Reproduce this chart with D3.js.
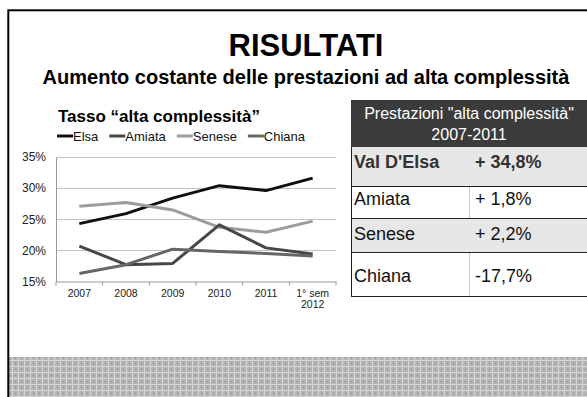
<!DOCTYPE html>
<html>
<head>
<meta charset="utf-8">
<script src="https://cdn.jsdelivr.net/npm/d3@7"></script>
<style>
  body { margin: 0; background: #fff; }
  svg { display: block; font-family: Arial, "Liberation Sans", sans-serif; }
</style>
</head>
<body>
<svg width="587" height="397"></svg>
<script>
// chart data
var years = ["2007", "2008", "2009", "2010", "2011", "1° sem|2012"];
var elsa = [24.3, 25.9, 28.4, 30.4, 29.6, 31.6];
var amiata = [20.7, 17.7, 17.9, 24.1, 20.4, 19.4];
var senese = [27.1, 27.7, 26.5, 23.7, 22.9, 24.7];
var chiana = [16.3, 17.7, 20.2, 19.8, 19.5, 19.1];
var seriesNames = ["Elsa", "Amiata", "Senese", "Chiana"];
var yTicks = [15, 20, 25, 30, 35];

// table data
var tableRegions = ["Val D'Elsa", "Amiata", "Senese", "Chiana"];
var tableChanges = ["+ 34,8%", "+ 1,8%", "+ 2,2%", "-17,7%"];

var colors = {Elsa: "#0f0f0f", Amiata: "#474747", Senese: "#9c9c9c", Chiana: "#666666"};

var svg = d3.select('svg');
var svgWidth = +svg.attr('width');
var svgHeight = +svg.attr('height');

// background band pattern at the bottom
var defs = svg.append("defs");
var pat = defs.append("pattern")
  .attr("id", "band")
  .attr("patternUnits", "userSpaceOnUse")
  .attr("width", 6).attr("height", 6);
pat.append("rect").attr("width", 6).attr("height", 6).attr("fill", "#b3b3b3");
pat.append("rect").attr("x", 0).attr("y", 0).attr("width", 6).attr("height", 1).attr("fill", "#d6d6d6");
pat.append("rect").attr("x", 0).attr("y", 0).attr("width", 1).attr("height", 6).attr("fill", "#d6d6d6");
pat.append("rect").attr("x", 3).attr("y", 3).attr("width", 1).attr("height", 1).attr("fill", "#8c8c8c");

svg.append("rect")
  .attr("x", 9).attr("y", 357)
  .attr("width", svgWidth - 9).attr("height", svgHeight - 357)
  .attr("fill", "url(#band)");

// slide frame
svg.append("rect")
  .attr("x", 8.3).attr("y", 10.3)
  .attr("width", 640).attr("height", 440)
  .attr("fill", "none")
  .attr("stroke", "#000")
  .attr("stroke-width", 2);

// titles
svg.append("text")
  .attr("x", 306).attr("y", 56)
  .attr("text-anchor", "middle")
  .attr("font-size", 31)
  .attr("font-weight", "bold")
  .text("RISULTATI");

svg.append("text")
  .attr("x", 306).attr("y", 84)
  .attr("text-anchor", "middle")
  .attr("font-size", 20)
  .attr("font-weight", "bold")
  .text("Aumento costante delle prestazioni ad alta complessità");

// ---- line chart ----
var plot = {l: 56, r: 336, t: 157, b: 281.5};

var xScale = d3.scaleBand()
  .domain(years)
  .range([plot.l, plot.r]);

var yScale = d3.scaleLinear()
  .domain([15, 35])
  .range([plot.b, plot.t]);

svg.append("text")
  .attr("x", 58).attr("y", 122)
  .attr("font-size", 17)
  .attr("font-weight", "bold")
  .text("Tasso “alta complessità”");

// legend
var legend = svg.append("g").attr("font-size", 13).attr("fill", "#111");
var lx = 57;
seriesNames.forEach(function(name) {
  legend.append("line")
    .attr("x1", lx).attr("x2", lx + 16)
    .attr("y1", 136).attr("y2", 136)
    .attr("stroke", colors[name])
    .attr("stroke-width", 3);
  var t = legend.append("text")
    .attr("x", lx + 16).attr("y", 140.5)
    .text(name);
  lx += 16 + t.node().getComputedTextLength() + 11;
});

// gridlines
svg.append("g").selectAll("line.grid")
  .data(yTicks.filter(function(d) { return d > 15; }))
  .enter()
  .append("line")
  .attr("class", "grid")
  .attr("x1", plot.l).attr("x2", plot.r)
  .attr("y1", function(d) { return Math.round(yScale(d)) + 0.5; })
  .attr("y2", function(d) { return Math.round(yScale(d)) + 0.5; })
  .attr("stroke", "#c4c4c4");

// y axis
var yAxis = svg.append("g")
  .attr("transform", "translate(" + plot.l + ",0)")
  .call(d3.axisLeft(yScale).tickValues(yTicks).tickSize(0).tickPadding(10)
    .tickFormat(function(d) { return d + "%"; }));
yAxis.select(".domain").attr("stroke", "#999");
yAxis.selectAll("text")
  .attr("font-size", 12)
  .attr("fill", "#222")
  .style("font-family", "Arial, 'Liberation Sans', sans-serif");

// x axis
var xAxis = svg.append("g")
  .attr("transform", "translate(0," + plot.b + ")")
  .call(d3.axisBottom(xScale).tickSize(0).tickFormat(""));
xAxis.select(".domain").attr("stroke", "#999");

xAxis.selectAll("line.sep")
  .data(d3.range(years.length + 1))
  .enter()
  .append("line")
  .attr("class", "sep")
  .attr("x1", function(i) { return plot.l + i * xScale.bandwidth(); })
  .attr("x2", function(i) { return plot.l + i * xScale.bandwidth(); })
  .attr("y1", 0).attr("y2", 4)
  .attr("stroke", "#999");

var xLabels = svg.append("g")
  .attr("font-size", 10.5)
  .attr("fill", "#222")
  .attr("text-anchor", "middle");
years.forEach(function(y) {
  var parts = y.split("|");
  var cx = xScale(y) + xScale.bandwidth() / 2;
  var t = xLabels.append("text").attr("x", cx).attr("y", plot.b + 15.5);
  parts.forEach(function(p, i) {
    t.append("tspan").attr("x", cx).attr("dy", i === 0 ? 0 : 10.5).text(p);
  });
});

// series lines
var allSeries = [
  {name: "Elsa", values: elsa},
  {name: "Senese", values: senese},
  {name: "Amiata", values: amiata},
  {name: "Chiana", values: chiana}
];

var line = d3.line()
  .x(function(d, i) { return xScale(years[i]) + xScale.bandwidth() / 2; })
  .y(function(d) { return yScale(d); });

svg.append("g").selectAll("path.series")
  .data(allSeries)
  .enter()
  .append("path")
  .attr("class", "series")
  .attr("fill", "none")
  .attr("stroke", function(d) { return colors[d.name]; })
  .attr("stroke-width", 3)
  .attr("stroke-linejoin", "round")
  .attr("d", function(d) { return line(d.values); });

// ---- table ----
var tbl = {l: 351, r: 588, colX: 469};
var rowTops = [147, 186, 218, 252, 296];
var rowBase = [21, 19, 22, 30];

svg.append("rect")
  .attr("x", tbl.l).attr("y", 100)
  .attr("width", tbl.r - tbl.l).attr("height", 47)
  .attr("fill", "#3b3b3b");

var head = svg.append("text")
  .attr("text-anchor", "middle")
  .attr("font-size", 16)
  .attr("fill", "#fff");
head.append("tspan").attr("x", 469).attr("y", 119).text('Prestazioni "alta complessità"');
head.append("tspan").attr("x", 469).attr("y", 140).text("2007-2011");

var rows = svg.append("g").selectAll("g.row")
  .data(tableRegions)
  .enter()
  .append("g")
  .attr("class", "row");

rows.append("rect")
  .attr("x", tbl.l).attr("y", function(d, i) { return rowTops[i]; })
  .attr("width", tbl.r - tbl.l)
  .attr("height", function(d, i) { return rowTops[i + 1] - rowTops[i]; })
  .attr("fill", function(d, i) { return i % 2 === 0 ? "#e7e7e7" : "#fff"; });

rows.filter(function(d, i) { return i % 2 === 1; })
  .append("line")
  .attr("x1", tbl.colX + 0.5).attr("x2", tbl.colX + 0.5)
  .attr("y1", function(d) { var i = tableRegions.indexOf(d); return rowTops[i]; })
  .attr("y2", function(d) { var i = tableRegions.indexOf(d); return rowTops[i + 1]; })
  .attr("stroke", "#c8c8c8");

rows.append("text")
  .attr("x", 354)
  .attr("y", function(d, i) { return rowTops[i] + rowBase[i]; })
  .attr("font-size", 18)
  .attr("font-weight", function(d, i) { return i === 0 ? "bold" : "normal"; })
  .attr("fill", function(d, i) { return i === 0 ? "#333" : "#111"; })
  .text(function(d) { return d; });

rows.append("text")
  .attr("x", 475)
  .attr("y", function(d, i) { return rowTops[i] + rowBase[i]; })
  .attr("font-size", 18)
  .attr("font-weight", function(d, i) { return i === 0 ? "bold" : "normal"; })
  .attr("fill", function(d, i) { return i === 0 ? "#333" : "#111"; })
  .text(function(d, i) { return tableChanges[i]; });

// row separators and borders
svg.append("g").selectAll("line.hsep")
  .data(rowTops.slice(1))
  .enter()
  .append("line")
  .attr("class", "hsep")
  .attr("x1", tbl.l).attr("x2", tbl.r)
  .attr("y1", function(d) { return d + 0.5; })
  .attr("y2", function(d) { return d + 0.5; })
  .attr("stroke", "#222")
  .attr("stroke-width", 1);

svg.append("line")
  .attr("x1", tbl.l + 0.5).attr("x2", tbl.l + 0.5)
  .attr("y1", 147).attr("y2", 297)
  .attr("stroke", "#222");
</script>
</body>
</html>
